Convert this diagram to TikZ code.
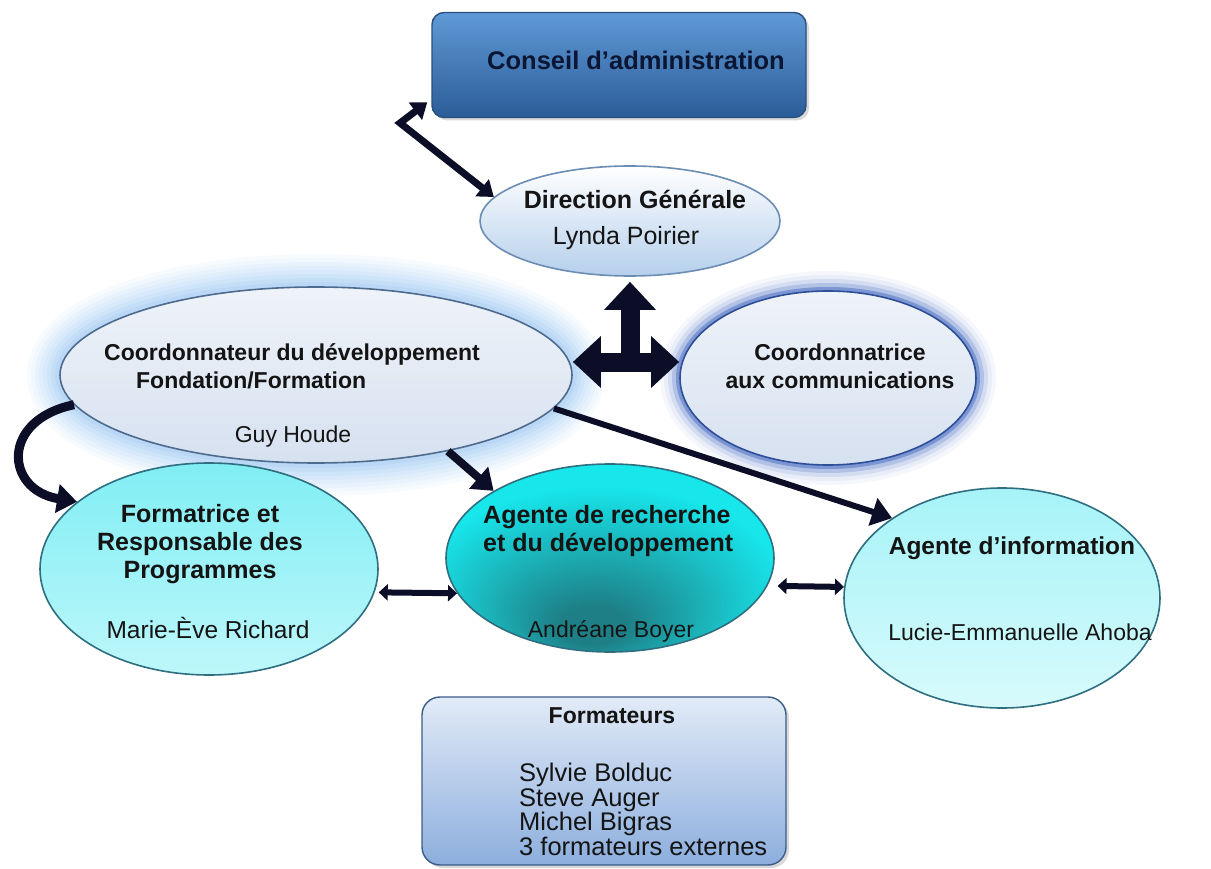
\documentclass[tikz,border=0pt]{standalone}
\usepackage{fontspec}
\setmainfont{Liberation Sans}
\usetikzlibrary{shapes.geometric,arrows.meta,shadows}

\definecolor{arrowc}{HTML}{0B0E26}
\definecolor{caTop}{HTML}{5F9AD6}
\definecolor{caBot}{HTML}{2B5C98}
\definecolor{caLine}{HTML}{27507F}
\definecolor{caText}{HTML}{0A1633}
\definecolor{dirLine}{HTML}{6C8DB3}
\definecolor{dirBot}{HTML}{B5CFEC}
\definecolor{coLine}{HTML}{4E6B8E}
\definecolor{coFill}{HTML}{D6E1F0}
\definecolor{glowA}{HTML}{7DB6EE}
\definecolor{glowB}{HTML}{3A62BE}
\definecolor{cyLine}{HTML}{2E6E80}
\definecolor{cyLight}{HTML}{BDF7FA}
\definecolor{cyMid}{HTML}{80EEF4}
\definecolor{agrCyan}{HTML}{17E6EB}
\definecolor{agrDark}{HTML}{1E7F86}
\definecolor{fmTop}{HTML}{E2EBF8}
\definecolor{fmBot}{HTML}{8CAEDD}
\definecolor{fmLine}{HTML}{3B5C89}
\definecolor{txt}{HTML}{141414}

\pgfdeclareradialshading{agrshade}{\pgfpoint{-3bp}{-20bp}}{color(0bp)=(agrDark); color(5bp)=(agrDark); color(28bp)=(agrCyan); color(50bp)=(agrCyan)}

\tikzset{
  ttl/.style={font=\bfseries\fontsize{#1}{28}\selectfont, text=txt, align=center, inner sep=0pt},
  ttl/.default=23,
  nm/.style={font=\fontsize{#1}{26}\selectfont, text=txt, inner sep=0pt},
  nm/.default=23,
  oval/.style={ellipse, inner sep=0pt, line width=1.6pt},
  box/.style={rectangle, rounded corners=12pt, line width=1.4pt, inner sep=0pt,
    drop shadow={opacity=0.3, shadow xshift=3pt, shadow yshift=-3pt}},
  glow/.style={preaction={draw=#1, line width=66pt, opacity=0.06},
    preaction={draw=#1, line width=58pt, opacity=0.06},
    preaction={draw=#1, line width=50pt, opacity=0.07},
    preaction={draw=#1, line width=42pt, opacity=0.08},
    preaction={draw=#1, line width=34pt, opacity=0.09},
    preaction={draw=#1, line width=26pt, opacity=0.1},
    preaction={draw=#1, line width=18pt, opacity=0.12},
    preaction={draw=#1, line width=10pt, opacity=0.14}},
  ring/.style={preaction={draw=#1, line width=40pt, opacity=0.05},
    preaction={draw=#1, line width=32pt, opacity=0.07},
    preaction={draw=#1, line width=24pt, opacity=0.12},
    preaction={draw=#1, line width=16pt, opacity=0.22},
    preaction={draw=#1, line width=8pt, opacity=0.45}},
  link/.style={draw=arrowc, line width=7pt},
  fat/.style={draw=arrowc, line width=#1, -{Triangle[length=20pt,width=28pt]}},
  tee/.style={draw=arrowc, line width=19pt},
  dlink/.style={draw=arrowc, line width=6pt, {Triangle[length=9pt,width=16pt]}-{Triangle[length=9pt,width=16pt]}},
}

\begin{document}
\begin{tikzpicture}[x=1pt, y=-1pt]
\useasboundingbox (0,0) rectangle (1211,869);

% ovals with glow first
\node[oval, glow=glowA, draw=coLine, top color=coFill!40!white, bottom color=coFill, minimum width=512pt, minimum height=176pt] (coord) at (316,375) {};
\node[oval, ring=glowB, draw=glowB!80!black, top color=coFill!40!white, bottom color=coFill, minimum width=296pt, minimum height=174pt] (comm) at (828,378) {};

\node[box, top color=caTop, bottom color=caBot, draw=caLine, minimum width=374pt, minimum height=105pt] (conseil) at (619,65) {};
\node[oval, draw=dirLine, top color=white, bottom color=dirBot, minimum width=300pt, minimum height=110pt] (dir) at (630,221) {};
\node[oval, draw=cyLine, top color=cyMid, bottom color=cyLight, minimum width=338pt, minimum height=212pt] (form) at (209,569) {};
\node[oval, draw=cyLine, shade, shading=agrshade, minimum width=328pt, minimum height=188pt] (agr) at (610,558) {};
\node[oval, draw=cyLine, top color=cyMid!70!white, bottom color=cyLight!60!white, minimum width=316pt, minimum height=220pt] (info) at (1002,598) {};
\node[box, rounded corners=18pt, top color=fmTop, bottom color=fmBot, draw=fmLine, minimum width=364pt, minimum height=168pt] (fmt) at (604,781) {};

% texts
\node[ttl=25.5, text=caText] (tca) at (636,60) {Conseil d’administration};
\node[ttl=25] (tdir) at (635,199) {Direction Générale};
\node[nm=25] (ndir) at (626,238) {Lynda Poirier};
\node[ttl, align=left] (tco) at (292,366) {Coordonnateur du développement\\\hspace*{32pt}Fondation/Formation};
\node[nm] (nco) at (293,437) {Guy Houde};
\node[ttl] (tcm) at (840,366) {Coordonnatrice\\aux communications};
\node[ttl=25] (tfo) at (200,544) {Formatrice et\\Responsable des\\Programmes};
\node[nm=24.5] (nfo) at (208,628) {Marie-Ève Richard};
\node[ttl=25, align=left, anchor=west] (tag) at (483,531) {Agente de recherche\\et du développement};
\node[nm] (nag) at (611,631) {Andréane Boyer};
\node[ttl=24.5] (tin) at (1012,548) {Agente d’information};
\node[nm] (nin) at (1020,632) {Lucie-Emmanuelle Ahoba};
\node[ttl] (tfm) at (612,716) {Formateurs};
\node[nm, align=left, anchor=north west, font=\fontsize{25.5}{24.5}\selectfont] (lfm) at (519,763) {Sylvie Bolduc\\Steve Auger\\Michel Bigras\\3 formateurs externes};

% connectors
\coordinate (kink) at (400,123);
\coordinate (tj) at (630,362);
\draw[link, {Triangle[length=15pt,width=21pt]}-{Triangle[length=15pt,width=21pt]}] ([xshift=-4pt, yshift=16pt]conseil.south west) -- (kink) -- (dir.170);
\draw[tee, {Triangle[length=28pt,width=50pt]}-{Triangle[length=28pt,width=50pt]}] (tj -| coord.east) -- (tj -| comm.west);
\draw[tee, -{Triangle[length=28pt,width=50pt]}, shorten >=5pt] (tj) -- (dir.south);
\draw[fat=9pt] (coord.187) .. controls (0,420) and (5,490) .. (form.153);
\draw[fat=8pt] (coord.330) -- (agr.150);
\draw[fat=6pt] (coord.352) -- (info.144);
\draw[dlink, shorten <=4pt] (form.-8) -- (agr.193);
\draw[dlink, shorten <=10pt] (agr.-10) -- (info.176);
\end{tikzpicture}
\end{document}
